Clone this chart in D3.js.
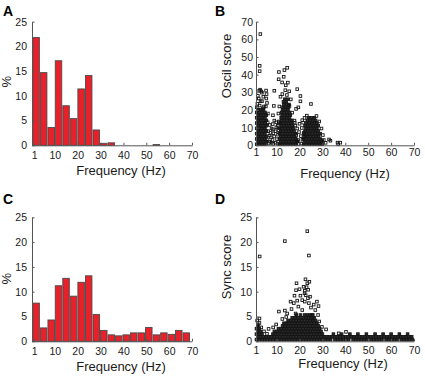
<!DOCTYPE html>
<html>
<head>
<meta charset="utf-8">
<script src="https://cdn.jsdelivr.net/npm/d3@7"></script>
<style>
  body { margin: 0; background: #fff; }
  svg { display: block; font-family: Arial, "Liberation Sans", sans-serif; }
</style>
</head>
<body>
<svg id="fig" width="425" height="376"></svg>
<script>
// histogram bins (Hz), same bins for A and C
const binCenters = [1.8, 5.1, 8.4, 11.6, 14.9, 18.2, 21.5, 24.8, 28.1, 31.4, 34.7,
                    37.9, 41.2, 44.5, 47.8, 51.1, 54.4, 57.7, 61.0, 64.2, 67.5];
const binWidth = 3.28;

// % of cells per bin
const pctA = [21.8, 14.7, 3.6, 17.1, 8.0, 5.4, 11.4, 14.1, 3.1, 0.4, 0.5,
              0, 0, 0, 0, 0, 0.15, 0, 0, 0, 0];
const pctC = [7.7, 2.7, 4.3, 11.2, 12.7, 9.1, 11.9, 13.2, 5.4, 2.2, 1.3,
              1.1, 1.3, 1.7, 1.7, 2.8, 1.3, 1.7, 1.4, 2.2, 1.7];

const freqTicks = [1, 10, 20, 30, 40, 50, 60, 70];
const pctTicks = [0, 5, 10, 15, 20, 25];
const oscilTicks = [0, 10, 20, 30, 40, 50, 60, 70];
const syncTicks = [0, 5, 10, 15, 20, 25];

// B: dense part, one row per score level -> frequencies of the squares on it
const oscilRows = [
  [0.6,  [1.3, 2.5, 3.7, 4.9, 11.2, 12.4, 13.6, 14.8, 16.0, 17.2, 18.4, 21.8, 23.0, 24.2, 25.4, 26.6, 27.8, 29.0, 30.0]],
  [2.1,  [1.9, 3.1, 4.3, 5.5, 11.8, 13.0, 14.2, 15.4, 16.6, 17.8, 19.0, 22.4, 23.6, 24.8, 26.0, 27.2, 28.4, 29.6]],
  [3.6,  [1.3, 2.5, 3.7, 4.9, 11.2, 12.4, 13.6, 14.8, 16.0, 17.2, 18.4, 21.8, 23.0, 24.2, 25.4, 26.6, 27.8, 29.0]],
  [5.1,  [1.9, 3.1, 4.3, 5.5, 11.8, 13.0, 14.2, 15.4, 16.6, 17.8, 22.4, 23.6, 24.8, 26.0, 27.2, 28.4]],
  [6.6,  [1.3, 2.5, 3.7, 4.9, 11.2, 12.4, 13.6, 14.8, 16.0, 17.2, 18.4, 22.0, 23.2, 24.4, 25.6, 26.8, 28.0, 29.0]],
  [8.1,  [1.9, 3.1, 4.3, 5.5, 11.8, 13.0, 14.2, 15.4, 16.6, 17.6, 22.4, 23.6, 24.8, 26.0, 27.2, 28.2]],
  [9.6,  [1.3, 2.5, 3.7, 4.9, 11.4, 12.6, 13.8, 15.0, 16.2, 17.2, 22.8, 24.0, 25.2, 26.4, 27.6]],
  [11.1, [1.9, 3.1, 4.3, 5.5, 12.0, 13.2, 14.4, 15.6, 16.8, 22.4, 23.6, 24.8, 26.0, 27.2, 28.2]],
  [12.6, [1.3, 2.5, 3.7, 4.9, 11.6, 12.8, 14.0, 15.2, 16.4, 23.0, 24.2, 25.4, 26.6, 27.6]],
  [14.1, [1.9, 3.1, 4.3, 5.5, 12.2, 13.4, 14.6, 15.8, 16.6, 23.4, 24.6, 25.8, 27.0]],
  [15.6, [1.3, 2.5, 3.7, 4.9, 12.0, 13.2, 14.4, 15.6, 24.0, 25.2, 26.4]],
  [17.1, [1.9, 3.1, 4.3, 5.5, 12.4, 13.6, 14.8, 16.0]],
  [18.6, [1.3, 2.5, 3.7, 4.9, 12.2, 13.4, 14.6, 15.6]],
  [20.1, [1.9, 3.1, 4.3, 12.6, 13.8, 15.0]],
  [21.6, [12.8, 14.0, 15.2]],
  [23.1, [13.2, 14.4, 15.4]],
  [24.6, [13.0, 14.2]],
  [26.1, [13.6, 14.8]]
];

// B: scattered squares [freq, score]
const oscilPoints = [
  [2.9, 63], [2.6, 45], [2.6, 42], [2.4, 30.9], [2.8, 31.5], [3.3, 30.5], [3.6, 29.8],
  [1.8, 28], [2.2, 26.5], [3.0, 25], [3.6, 25], [4.2, 27.5], [5.4, 31], [5.6, 29],
  [5.5, 26.5], [5.8, 24], [5.3, 22], [2.6, 22.5], [4.5, 22], [1.6, 23.5], [4.0, 21],
  [1.3, 21.5], [6.2, 18], [6.1, 13], [6.3, 8], [6.0, 3],
  [7.2, 2], [7.5, 4.5], [7.3, 7], [7.8, 9.5], [8.3, 12], [9.0, 14], [9.8, 13], [10.5, 11],
  [10.8, 8.5], [10.6, 6], [10.2, 3.5], [9.6, 1.5], [8.5, 0.8], [8.2, 3], [8.9, 5], [9.5, 8],
  [8.4, 9], [6.6, 1], [6.9, 5.5], [7.0, 11.5], [8.6, 6.8], [10.9, 13.5], [9.9, 10.2],
  [7.9, 1.5], [10.4, 1],
  [11.0, 41.5], [13.4, 42.6], [14.6, 43.9], [10.9, 37.4], [13.1, 38.8], [12.4, 35.6],
  [14.9, 35.5], [14.0, 34], [9.0, 30.9], [12.5, 29], [14.5, 28.5], [16.2, 26], [15.6, 22.3],
  [16.8, 18.5], [11.2, 22], [10.8, 18], [11.0, 13], [17.8, 14], [18.5, 20.6], [19.0, 31.8],
  [20.4, 27.9], [20.4, 24.9], [19.5, 21.5], [8.8, 22.3], [8.4, 17], [11.7, 27.5],
  [13.8, 31.2], [15.5, 30.6],
  [18.2, 11.2], [19.0, 9.5], [19.8, 7.5], [20.6, 5.2], [21.3, 3.2], [19.4, 3.0], [18.6, 5.8],
  [20.0, 12.2], [21.0, 9.8], [21.8, 7.0], [20.8, 1.0], [19.6, 0.8], [17.9, 12.8], [18.8, 2.4],
  [21.6, 12.8], [22.0, 4.8],
  [25.0, 23.4], [23.2, 16.8], [27.4, 16.6], [28.6, 13.5], [29.6, 9.5], [30.2, 5.8], [29.9, 2.6],
  [30.6, 3.0], [31.4, 1.4], [32.9, 3.3], [33.5, 2.6], [36.6, 1.5], [37.8, 1.5], [36.9, 0.6],
  [21.2, 14.2], [22.2, 15.5]
];

// D: dense part, one row per score level -> frequencies
const syncRows = [
  [0.35, [1.2, 2.4, 3.6, 4.8, 6.0, 7.2, 8.4, 9.6, 10.8, 12.0, 13.2, 14.4, 15.6, 16.8, 18.0, 19.2, 20.4,
          21.6, 22.8, 24.0, 25.2, 26.4, 27.6, 28.8, 30.0, 31.2, 32.4, 33.6, 35.5, 36.7, 37.9, 39.1,
          40.3, 41.5, 43.4, 44.6, 45.8, 47.0, 48.2, 49.4, 51.2, 52.4, 53.6, 54.8, 56.0, 57.8, 59.0,
          60.2, 61.4, 62.6, 64.4, 65.6, 66.8, 68.0, 69.2]],
  [0.9,  [1.8, 3.0, 4.2, 5.4, 6.6, 7.8, 9.0, 10.2, 11.4, 12.6, 13.8, 15.0, 16.2, 17.4, 18.6, 19.8, 21.0,
          22.2, 23.4, 24.6, 25.8, 27.0, 28.2, 29.4, 30.6, 31.8, 33.0, 34.2, 35.4, 36.6, 37.8, 39.0,
          40.2, 41.4, 42.6, 43.8, 45.0, 46.2, 47.4, 48.6, 49.8, 51.0, 52.2, 53.4, 54.6, 55.8, 57.0,
          58.2, 59.4, 60.6, 61.8, 63.0, 64.2, 65.4, 66.6, 67.8, 69.0]],
  [1.45, [1.2, 2.4, 3.6, 8.4, 9.6, 10.8, 12.0, 13.2, 14.4, 15.6, 16.8, 18.0, 19.2, 20.4, 21.6, 22.8,
          24.0, 25.2, 26.4, 27.6, 28.8, 30.0, 34.8, 38.4, 42.0, 45.5, 49.2, 53.0, 56.5, 60.0, 63.6, 67.2]],
  [2.0,  [1.8, 3.0, 9.0, 10.2, 11.4, 12.6, 13.8, 15.0, 16.2, 17.4, 18.6, 19.8, 21.0, 22.2, 23.4, 24.6,
          25.8, 27.0, 28.2, 29.4]],
  [2.55, [1.2, 2.4, 10.8, 12.0, 13.2, 14.4, 15.6, 16.8, 18.0, 19.2, 20.4, 21.6, 22.8, 24.0, 25.2, 26.4,
          27.6, 28.8]],
  [3.1,  [1.8, 12.6, 13.8, 15.0, 16.2, 17.4, 18.6, 19.8, 21.0, 22.2, 23.4, 24.6, 25.8, 27.0, 28.2]],
  [3.65, [13.2, 14.4, 15.6, 16.8, 18.0, 19.2, 20.4, 21.6, 22.8, 24.0, 25.2, 26.4, 27.6]],
  [4.2,  [15.0, 16.2, 17.4, 18.6, 19.8, 21.0, 22.2, 23.4, 24.6, 25.8, 27.0]],
  [4.75, [16.8, 18.0, 19.2, 20.4, 21.6, 22.8, 24.0, 25.2, 26.4]],
  [5.3,  [18.6, 20.4, 22.2, 23.4, 24.6, 25.8]]
];

// D: scattered squares [freq, score]
const syncPoints = [
  [2.6, 17.1], [13.6, 20.2], [23.4, 22.2], [24.1, 17.3],
  [18.7, 11.7], [22.6, 12.5], [23.4, 11.7], [23.1, 10.9], [22.3, 10.2], [18.5, 10.3], [20.4, 9.2],
  [17.8, 9.2], [21.2, 8.3], [16.1, 8.0], [17.5, 7.7], [13.6, 6.2], [11.0, 6.0], [14.6, 5.6],
  [18.3, 5.6], [21.2, 6.3], [24.1, 7.7], [22.2, 9.7], [22.7, 9.3], [23.7, 8.7], [22.3, 8.0],
  [27.6, 8.0], [28.3, 7.1], [26.9, 6.3], [25.4, 5.3], [28.1, 5.3], [25.5, 4.6], [28.6, 4.0],
  [29.8, 2.9], [31.6, 2.4], [37.1, 1.6], [40.3, 1.9],
  [2.5, 4.6], [2.5, 3.7], [3.3, 2.8], [1.5, 4.2], [1.8, 3.4], [5.8, 1.5], [4.5, 2.0], [6.5, 2.5],
  [8.5, 2.8], [9.8, 3.4], [12.5, 4.5], [14.2, 4.9], [16.5, 6.5], [19.5, 7.0], [20.0, 10.5],
  [23.8, 10.4], [24.6, 9.0], [25.0, 6.8], [26.2, 7.4], [24.3, 12.0], [21.8, 11.0], [19.0, 8.2]
];

const svg = d3.select("#fig");
const FONT = "Arial, 'Liberation Sans', sans-serif";

function rowsToPoints(rows) {
  const pts = [];
  rows.forEach(([s, fs]) => fs.forEach(f => pts.push([f, s])));
  return pts;
}

function makeAxes(p) {
  const x = d3.scaleLinear().domain(p.xDomain).range([p.left, p.right]);
  const y = d3.scaleLinear().domain(p.yDomain).range([p.bottom, p.top]);
  return { x, y };
}

function drawAxes(p, x, y, yTicks) {
  const gx = svg.append("g")
    .attr("transform", "translate(0," + p.bottom + ")")
    .call(d3.axisBottom(x).tickValues(freqTicks).tickSizeInner(-2.5).tickSizeOuter(0)
      .tickPadding(p.xPad).tickFormat(d3.format("d")));
  const gy = svg.append("g")
    .attr("transform", "translate(" + p.left + ",0)")
    .call(d3.axisLeft(y).tickValues(yTicks).tickSizeInner(-2.5).tickSizeOuter(0)
      .tickPadding(p.yPad).tickFormat(d3.format("d")));
  [gx, gy].forEach(g => {
    g.attr("font-family", FONT).attr("font-size", 10.5);
    g.selectAll("path, line").attr("stroke", "#555").attr("stroke-width", 1);
    g.selectAll("text").attr("fill", "#1a1a1a");
  });

  svg.append("text")
    .attr("x", (p.left + p.right) / 2 + p.xLabelShift)
    .attr("y", p.xLabelY)
    .attr("text-anchor", "middle")
    .attr("font-size", 13)
    .attr("fill", "#1a1a1a")
    .text("Frequency (Hz)");

  svg.append("text")
    .attr("transform", "translate(" + p.yLabelX + "," + p.yLabelY + ") rotate(-90)")
    .attr("text-anchor", "middle")
    .attr("font-size", 13)
    .attr("fill", "#1a1a1a")
    .text(p.yLabel);

  svg.append("text")
    .attr("x", p.letterX)
    .attr("y", p.letterY)
    .attr("font-size", 14)
    .attr("font-weight", "bold")
    .attr("fill", "#000")
    .text(p.letter);
}

function barPanel(p, values) {
  const { x, y } = makeAxes(p);
  svg.append("g")
    .selectAll("rect")
    .data(values.map((v, i) => ({ c: binCenters[i], v })))
    .join("rect")
    .attr("x", d => x(d.c - binWidth / 2) + 0.5)
    .attr("width", d => x(d.c + binWidth / 2) - x(d.c - binWidth / 2) - 1)
    .attr("y", d => y(d.v))
    .attr("height", d => y(0) - y(d.v))
    .attr("fill", "#e8202a")
    .attr("stroke", "#4a4a4a")
    .attr("stroke-width", 0.9);
  drawAxes(p, x, y, pctTicks);
}

// dense rows are overlapping squares, which show as solid dark; loose ones stay open
function scatterPanel(p, rows, points, yTicks) {
  const { x, y } = makeAxes(p);
  const s = 2.6;
  const g = svg.append("g");
  const draw = (data, fill) => g.append("g")
    .selectAll("rect")
    .data(data)
    .join("rect")
    .attr("x", d => x(d[0]) - s / 2)
    .attr("y", d => y(d[1]) - s / 2)
    .attr("width", s)
    .attr("height", s)
    .attr("fill", fill)
    .attr("stroke", "#141414")
    .attr("stroke-width", 0.9);
  draw(rowsToPoints(rows), "#2b2b2b");
  draw(points, "none");
  drawAxes(p, x, y, yTicks);
}

barPanel({
  xDomain: [0, 70], yDomain: [0, 25], left: 32, right: 192, top: 21.7, bottom: 145.3,
  xPad: 6, yPad: 5, xLabelShift: 9, xLabelY: 174.7, yLabel: "%", yLabelX: 11, yLabelY: 81.7,
  letter: "A", letterX: 3, letterY: 15.5
}, pctA);

scatterPanel({
  xDomain: [1, 70], yDomain: [0, 70], left: 256, right: 414, top: 21.7, bottom: 145.3,
  xPad: 3, yPad: 3, xLabelShift: 10, xLabelY: 177.5, yLabel: "Oscil score", yLabelX: 231, yLabelY: 66,
  letter: "B", letterX: 215, letterY: 15.5
}, oscilRows, oscilPoints, oscilTicks);

barPanel({
  xDomain: [0, 70], yDomain: [0, 25], left: 32, right: 192, top: 217.3, bottom: 341.3,
  xPad: 6.5, yPad: 5, xLabelShift: 9, xLabelY: 370.5, yLabel: "%", yLabelX: 11, yLabelY: 278.8,
  letter: "C", letterX: 3, letterY: 203.5
}, pctC);

scatterPanel({
  xDomain: [1, 70], yDomain: [0, 25], left: 256, right: 414, top: 217.3, bottom: 341.3,
  xPad: 5, yPad: 4, xLabelShift: 8, xLabelY: 367.5, yLabel: "Sync score", yLabelX: 231, yLabelY: 267,
  letter: "D", letterX: 215, letterY: 203.5
}, syncRows, syncPoints, syncTicks);
</script>
</body>
</html>
